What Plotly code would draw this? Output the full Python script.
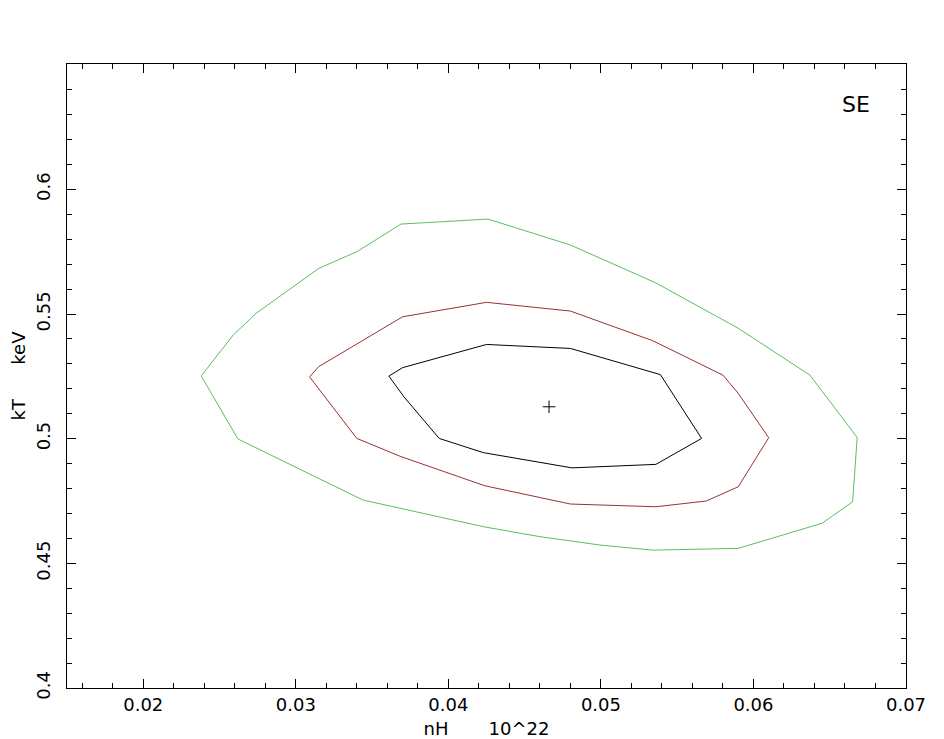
import plotly.graph_objects as go

# confidence contours (nH in 10^22, kT in keV)
green_nh = [0.0238, 0.0259, 0.0274, 0.0315, 0.0340, 0.0369, 0.0395, 0.0426, 0.0480, 0.0536,
            0.0590, 0.0637, 0.0668, 0.0665, 0.0645, 0.0590, 0.0534, 0.0500, 0.0460, 0.0423,
            0.0344, 0.0262, 0.0238]
green_kt = [0.5252, 0.5416, 0.5503, 0.5683, 0.5750, 0.5861, 0.5870, 0.5881, 0.5777, 0.5625,
            0.5443, 0.5255, 0.5005, 0.4747, 0.4661, 0.4560, 0.4553, 0.4573, 0.4607, 0.4647,
            0.4754, 0.4999, 0.5252]

red_nh = [0.0309, 0.0315, 0.0370, 0.0425, 0.0480, 0.0534, 0.0580, 0.0590, 0.0610, 0.0590,
          0.0569, 0.0536, 0.0480, 0.0424, 0.0369, 0.0340, 0.0309]
red_kt = [0.5248, 0.5289, 0.5489, 0.5547, 0.5512, 0.5393, 0.5255, 0.5182, 0.5004, 0.4807,
          0.4750, 0.4727, 0.4738, 0.4811, 0.4928, 0.5001, 0.5248]

black_nh = [0.0361, 0.0370, 0.0425, 0.0480, 0.0539, 0.0566, 0.0536, 0.0481, 0.0423, 0.0394,
            0.0371, 0.0361]
black_kt = [0.5251, 0.5285, 0.5378, 0.5362, 0.5257, 0.5001, 0.4897, 0.4883, 0.4944, 0.5001,
            0.5167, 0.5251]

best_nh = [0.0466]
best_kt = [0.5128]

GREEN = '#5cbd5c'
RED = '#963232'
INK = 'black'
FONT = 'DejaVu Sans'

fig = go.Figure()
fig.add_trace(go.Scatter(x=green_nh, y=green_kt, mode='lines',
                         line=dict(color=GREEN, width=1), name='99%'))
fig.add_trace(go.Scatter(x=red_nh, y=red_kt, mode='lines',
                         line=dict(color=RED, width=1), name='90%'))
fig.add_trace(go.Scatter(x=black_nh, y=black_kt, mode='lines',
                         line=dict(color=INK, width=1), name='68%'))
fig.add_trace(go.Scatter(x=best_nh, y=best_kt, mode='markers', name='best fit',
                         marker=dict(symbol='cross-thin', size=9,
                                     line=dict(color=INK, width=1))))

fig.add_annotation(x=0.0667, y=0.6342, text='SE', showarrow=False,
                   font=dict(family=FONT, size=22, color=INK))

# page body has an 8px margin, so the figure is a little smaller than the window
fig.update_layout(
    width=936, height=731,
    paper_bgcolor='white', plot_bgcolor='white',
    margin=dict(l=59, r=38, t=56, b=51),
    showlegend=False,
    font=dict(family=FONT, size=18, color=INK),
)

fig.update_xaxes(
    range=[0.015, 0.07], tickvals=[0.02, 0.03, 0.04, 0.05, 0.06, 0.07],
    ticktext=['0.02', '0.03', '0.04', '0.05', '0.06', '0.07'],
    ticks='inside', ticklen=9, tickwidth=1, tickcolor=INK,
    minor=dict(ticks='inside', ticklen=5, dtick=0.002, tick0=0, tickcolor=INK, tickwidth=1),
    showline=True, linecolor=INK, linewidth=1, mirror='ticks',
    showgrid=False, zeroline=False, automargin=False,
    title=dict(text='nH' + '\u00a0' * 7 + '10^22', standoff=10,
               font=dict(family=FONT, size=18, color=INK)),
    tickfont=dict(family=FONT, size=18, color=INK),
)
fig.update_yaxes(
    range=[0.4, 0.6503], tickvals=[0.4, 0.45, 0.5, 0.55, 0.6],
    ticktext=['0.4', '0.45', '0.5', '0.55', '0.6'], tickangle=-90,
    ticks='inside', ticklen=9, tickwidth=1, tickcolor=INK,
    minor=dict(ticks='inside', ticklen=5, dtick=0.01, tick0=0, tickcolor=INK, tickwidth=1),
    showline=True, linecolor=INK, linewidth=1, mirror='ticks',
    showgrid=False, zeroline=False, automargin=False, ticklabelstandoff=9,
    title=dict(text='kT' + '\u00a0' * 6 + 'keV', standoff=23,
               font=dict(family=FONT, size=18, color=INK)),
    tickfont=dict(family=FONT, size=18, color=INK),
)

fig.write_html("out.html")
